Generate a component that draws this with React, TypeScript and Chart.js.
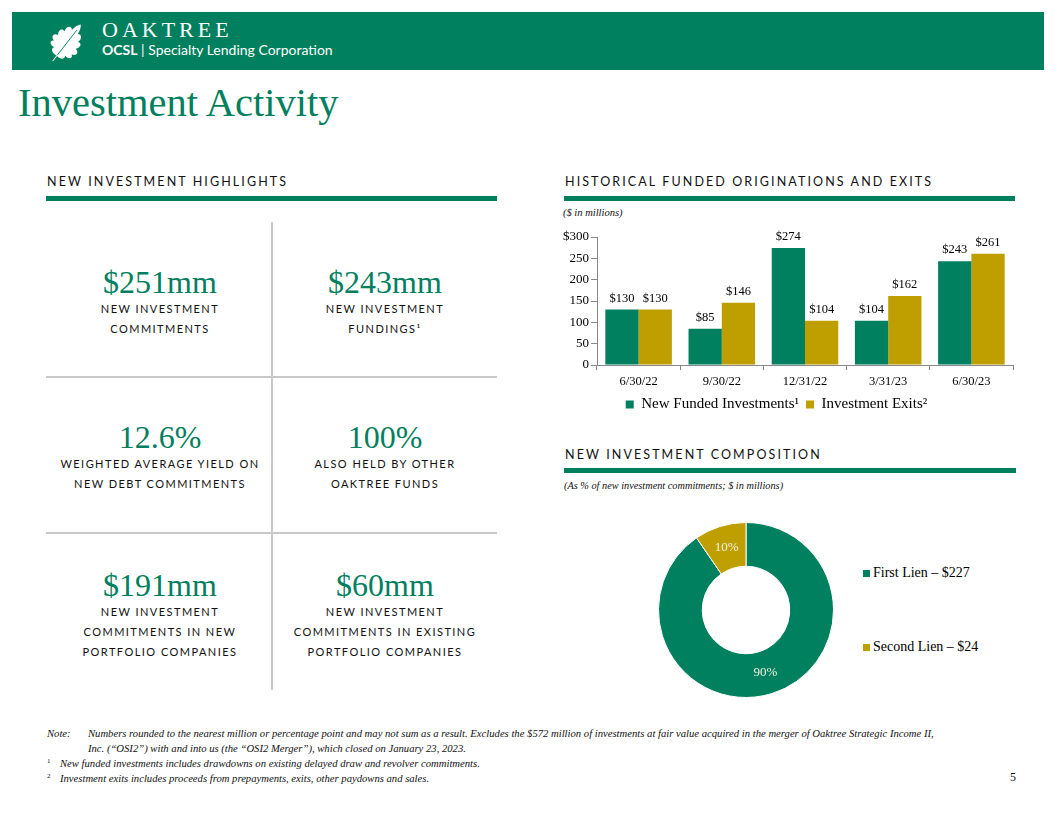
import React, { useEffect, useRef } from "react";
import { Chart, registerables } from "chart.js";

Chart.register(...registerables);

const GREEN = "#00805E";
const GOLD = "#BF9F00";
const SERIF = "'Liberation Serif', 'Times New Roman', serif";
const SANS = "Lato, 'Open Sans', sans-serif";

// Bar chart data
const quarters = ["6/30/22", "9/30/22", "12/31/22", "3/31/23", "6/30/23"];
const newFunded = [130, 85, 274, 104, 243];
const investmentExits = [130, 146, 104, 162, 261];
const seriesNames = ["New Funded Investments¹", "Investment Exits²"];
const yMax = 300;
const yStep = 50;

// Doughnut data
const compLabels = ["First Lien – $227", "Second Lien – $24"];
const compValues = [227, 24];
const compPct = ["90%", "10%"];

// Highlight cells
const highlightValues = ["$251mm", "$243mm", "12.6%", "100%", "$191mm", "$60mm"];
const highlightLabels = [
  ["NEW INVESTMENT", "COMMITMENTS"],
  ["NEW INVESTMENT", "FUNDINGS¹"],
  ["WEIGHTED AVERAGE YIELD ON", "NEW DEBT COMMITMENTS"],
  ["ALSO HELD BY OTHER", "OAKTREE FUNDS"],
  ["NEW INVESTMENT", "COMMITMENTS IN NEW", "PORTFOLIO COMPANIES"],
  ["NEW INVESTMENT", "COMMITMENTS IN EXISTING", "PORTFOLIO COMPANIES"],
];

const footnotes = [
  "Numbers rounded to the nearest million or percentage point and may not sum as a result. Excludes the $572 million of investments at fair value acquired in the merger of Oaktree Strategic Income II,",
  "Inc. (“OSI2”) with and into us (the “OSI2 Merger”), which closed on January 23, 2023.",
  "New funded investments includes drawdowns on existing delayed draw and revolver commitments.",
  "Investment exits includes proceeds from prepayments, exits, other paydowns and sales.",
];

const barValueLabels = {
  id: "barValueLabels",
  afterDatasetsDraw(chart: any) {
    const ctx = chart.ctx;
    ctx.save();
    ctx.font = `12.5px ${SERIF}`;
    ctx.fillStyle = "#000";
    ctx.textAlign = "center";
    ctx.textBaseline = "bottom";
    chart.data.datasets.forEach((ds: any, i: number) => {
      chart.getDatasetMeta(i).data.forEach((bar: any, j: number) => {
        ctx.fillText("$" + ds.data[j], bar.x, bar.y - 5);
      });
    });
    ctx.restore();
  },
};

const donutPctLabels = {
  id: "donutPctLabels",
  afterDatasetsDraw(chart: any) {
    const ctx = chart.ctx;
    ctx.save();
    ctx.font = `13px ${SERIF}`;
    ctx.fillStyle = "#F2F0E0";
    ctx.textAlign = "center";
    ctx.textBaseline = "middle";
    chart.getDatasetMeta(0).data.forEach((arc: any, j: number) => {
      const p = arc.tooltipPosition();
      ctx.fillText(compPct[j], p.x, p.y);
    });
    ctx.restore();
  },
};

function BarChart() {
  const ref = useRef<HTMLCanvasElement>(null);
  useEffect(() => {
    const chart = new Chart(ref.current!, {
      type: "bar",
      data: {
        labels: quarters,
        datasets: [
          { label: seriesNames[0], data: newFunded, backgroundColor: GREEN, categoryPercentage: 0.8, barPercentage: 1.0 },
          { label: seriesNames[1], data: investmentExits, backgroundColor: GOLD, categoryPercentage: 0.8, barPercentage: 1.0 },
        ],
      },
      options: {
        animation: false,
        responsive: false,
        maintainAspectRatio: false,
        layout: { padding: { top: 15, right: 31, left: 0, bottom: 0 } },
        plugins: {
          tooltip: { enabled: false },
          legend: {
            position: "bottom",
            labels: {
              boxWidth: 8,
              boxHeight: 8,
              padding: 7,
              color: "#000",
              font: { family: SERIF, size: 15 },
            },
          },
        },
        scales: {
          x: {
            afterFit: (s: any) => { s.height = 25; },
            grid: { drawOnChartArea: false, tickLength: 5, color: "#888" },
            border: { color: "#888" },
            ticks: { color: "#000", padding: 4, font: { family: SERIF, size: 12.5 } },
          },
          y: {
            min: 0,
            max: yMax,
            afterFit: (s: any) => { s.width = 57; },
            grid: { drawOnChartArea: false, tickLength: 6, color: "#888" },
            border: { color: "#888" },
            ticks: {
              stepSize: yStep,
              color: "#000",
              padding: 2,
              font: { family: SERIF, size: 13 },
              callback: (v: any) => (v === yMax ? "$" + v : String(v)),
            },
          },
        },
      },
      plugins: [barValueLabels],
    } as any);
    return () => chart.destroy();
  }, []);
  return (
    <canvas
      ref={ref}
      width={504}
      height={200}
      style={{ position: "absolute", left: 540, top: 222, width: 504, height: 200 }}
    />
  );
}

function DonutChart() {
  const ref = useRef<HTMLCanvasElement>(null);
  useEffect(() => {
    const chart = new Chart(ref.current!, {
      type: "doughnut",
      data: {
        labels: compLabels,
        datasets: [
          { data: compValues, backgroundColor: [GREEN, GOLD], borderColor: "#fff", borderWidth: 1 },
        ],
      },
      options: {
        animation: false,
        responsive: false,
        maintainAspectRatio: false,
        cutout: "50%",
        layout: { padding: 2 },
        plugins: { legend: { display: false }, tooltip: { enabled: false } },
      },
      plugins: [donutPctLabels],
    } as any);
    return () => chart.destroy();
  }, []);
  return (
    <canvas
      ref={ref}
      width={180}
      height={180}
      style={{ position: "absolute", left: 656, top: 520, width: 180, height: 180 }}
    />
  );
}

const abs = (o: React.CSSProperties): React.CSSProperties => ({ position: "absolute", ...o });

function SectionHeader({ x, y, w, text, ruleY }: { x: number; y: number; w: number; text: string; ruleY: number }) {
  return (
    <>
      <div style={abs({ left: x, top: y, fontFamily: SANS, fontSize: 12.5, lineHeight: 1, letterSpacing: 2.1, color: "#111", whiteSpace: "nowrap" })}>
        {text}
      </div>
      <div style={abs({ left: x - 1, top: ruleY, width: w, height: 5, background: GREEN })} />
    </>
  );
}

function Leaf() {
  return (
    <svg width={46} height={48} viewBox="0 0 40 56" style={abs({ left: 44, top: 18, transform: "rotate(38deg)" })}>
      <path
        d="M20 56 L20 48 C14 49 9 46 12 42 C6 43 2 39 7 36 C1 35 1 29 7 28 C3 24 5 18 10 20 C8 13 12 10 16 13 C16 6 20 2 20 2 C20 2 24 6 24 13 C28 10 32 14 30 20 C35 18 37 24 33 28 C39 29 39 35 33 36 C38 39 34 43 28 42 C31 46 26 49 21 48 L21 56 Z"
        fill="#fff"
      />
      <path d="M20.5 47 L20.5 10" stroke={GREEN} strokeWidth={1} />
    </svg>
  );
}

const supStyle: React.CSSProperties = {
  display: "inline-block",
  width: 13,
  fontSize: 7,
  lineHeight: "0px",
  position: "relative",
  top: -4,
  fontStyle: "normal",
};

export default function App() {
  const colCenters = [160, 385];
  const rowTops = [266, 421, 569];
  return (
    <div style={abs({ left: 0, top: 0, width: 1056, height: 816, background: "#fff", overflow: "hidden" })}>
      {/* Header band */}
      <div style={abs({ left: 12, top: 12, width: 1032, height: 58, background: GREEN })} />
      <Leaf />
      <div style={abs({ left: 102, top: 19, fontFamily: SERIF, fontSize: 22, lineHeight: 1, letterSpacing: 4, color: "#fff" })}>
        OAKTREE
      </div>
      <div style={abs({ left: 102, top: 43, fontFamily: SANS, fontSize: 14, lineHeight: 1, color: "#fff", whiteSpace: "nowrap" })}>
        <b>OCSL</b> | Specialty Lending Corporation
      </div>

      {/* Title */}
      <div style={abs({ left: 18, top: 83, fontFamily: SERIF, fontSize: 40.5, lineHeight: 1, color: GREEN, whiteSpace: "nowrap" })}>
        Investment Activity
      </div>

      <SectionHeader x={47} y={176} w={451} text="NEW INVESTMENT HIGHLIGHTS" ruleY={196} />
      <SectionHeader x={565} y={176} w={451} text="HISTORICAL FUNDED ORIGINATIONS AND EXITS" ruleY={196} />
      <SectionHeader x={565} y={449} w={452} text="NEW INVESTMENT COMPOSITION" ruleY={468} />

      {/* Grid lines */}
      <div style={abs({ left: 271, top: 222, width: 2, height: 468, background: "#c8c8c8" })} />
      <div style={abs({ left: 46, top: 376, width: 451, height: 2, background: "#c8c8c8" })} />
      <div style={abs({ left: 46, top: 532, width: 451, height: 2, background: "#c8c8c8" })} />

      {highlightValues.map((v, i) => {
        const cx = colCenters[i % 2];
        const top = rowTops[Math.floor(i / 2)];
        return (
          <div key={i} style={abs({ left: cx - 115, top, width: 230, textAlign: "center" })}>
            <div style={{ fontFamily: SERIF, fontSize: 32, lineHeight: "32px", color: GREEN }}>{v}</div>
            <div style={{ marginTop: 1, fontFamily: SANS, fontSize: 11, lineHeight: "20px", letterSpacing: 1.45, color: "#111", whiteSpace: "nowrap" }}>
              {highlightLabels[i].map((l, k) => (
                <div key={k}>{l}</div>
              ))}
            </div>
          </div>
        );
      })}

      {/* Bar chart */}
      <div style={abs({ left: 563, top: 208, fontFamily: SERIF, fontStyle: "italic", fontSize: 10.5, lineHeight: 1, color: "#111" })}>
        ($ in millions)
      </div>
      <BarChart />

      {/* Doughnut */}
      <div style={abs({ left: 564, top: 481, fontFamily: SERIF, fontStyle: "italic", fontSize: 10.3, lineHeight: 1, color: "#111", whiteSpace: "nowrap" })}>
        (As % of new investment commitments; $ in millions)
      </div>
      <DonutChart />
      {compLabels.map((l, i) => (
        <div key={i} style={abs({ left: 863, top: i === 0 ? 565 : 639, fontFamily: SERIF, fontSize: 14, lineHeight: "16px", color: "#000", whiteSpace: "nowrap", display: "flex", alignItems: "center" })}>
          <span style={{ display: "inline-block", width: 7, height: 7, background: [GREEN, GOLD][i], marginRight: 3 }} />
          {l}
        </div>
      ))}

      {/* Footnotes */}
      <div style={abs({ left: 47, top: 726, fontFamily: SERIF, fontStyle: "italic", fontSize: 10.65, lineHeight: "15px", color: "#111", whiteSpace: "nowrap" })}>
        <div style={{ height: 15 }}><span style={{ display: "inline-block", width: 41 }}>Note:</span>{footnotes[0]}</div>
        <div style={{ height: 15, paddingLeft: 41 }}>{footnotes[1]}</div>
        <div style={{ height: 15 }}><span style={supStyle}>1</span>{footnotes[2]}</div>
        <div style={{ height: 15 }}><span style={supStyle}>2</span>{footnotes[3]}</div>
      </div>
      <div style={abs({ left: 1010, top: 771, fontFamily: SERIF, fontSize: 12, lineHeight: 1, color: "#111" })}>5</div>
    </div>
  );
}
